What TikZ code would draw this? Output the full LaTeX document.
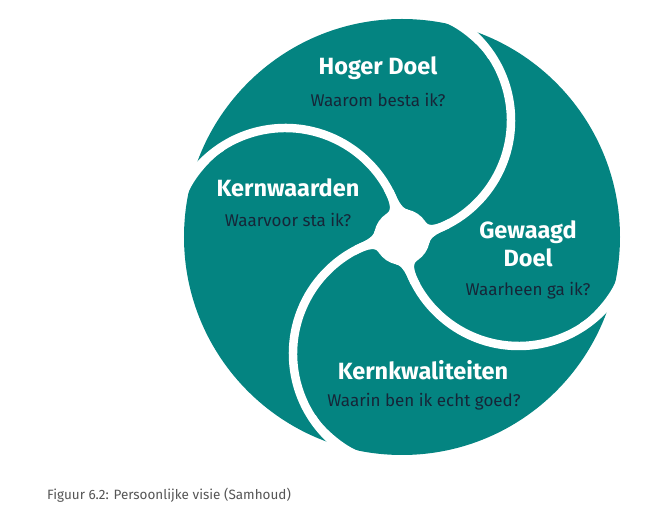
\documentclass[tikz,border=0pt]{standalone}
\usepackage{fontspec}
\setmainfont{Fira Sans}
\usepackage{tikz}
\usetikzlibrary{calc}
\definecolor{visieteal}{RGB}{4,132,129}
\definecolor{vraagblauw}{RGB}{22,38,56}
\definecolor{bijschrift}{RGB}{85,85,85}
\tikzset{
  kop_w/.style = {align=center, inner sep=0pt, text=white,
    font=\fontsize{23.5}{28}\selectfont\bfseries},% kop, wit
  vraag_d/.style = {align=center, inner sep=0pt, text=vraagblauw,
    font=\fontsize{17}{20}\selectfont},% vraag, donker
  spleet/.style = {fill=white}% witte spleet tussen de bladen
}

\begin{document}
\begin{tikzpicture}[x=1pt,y=1pt]
\useasboundingbox (-402,-281) rectangle (256,237);
\fill[visieteal] (0,0) circle (218);
% vier bladen: elke spleet is een boog vanuit het midden
\foreach \r in {0,-90,-180,-270}{
  \begin{scope}[rotate=\r]
    \coordinate (m) at (-8,116.7);% middelpunt van de boog
    % de spleet zelf
    \path[spleet] ($(m)+(-86:121.25)$) arc[start angle=-86, end angle=62, radius=121.25]
      -- ($(m)+(62:112.75)$) arc[start angle=62, end angle=-86, radius=112.75] -- cycle;
    % afgeronde punt van het blad voor de spleet
    \path[spleet] (80:219) .. controls +(-10:16) and +(118:14) .. ($(m)+(33:112.5)$)
      -- ($(m)+(33:117)$) arc[start angle=33, end angle=62, radius=117]
      -- (75:260) -- (80:260) -- cycle;
    % overgang naar de cirkel in het midden
    \path[spleet] (-12:28) .. controls +(78:7) and +(205:9) .. ($(m)+(-63:121.25)$)
      -- ($(m)+(-63:117)$) arc[start angle=-63, end angle=-86, radius=117] -- cycle;
    \path[spleet] (32:28) .. controls +(-58:7) and +(207:9) .. ($(m)+(-61:112.75)$)
      -- ($(m)+(-61:117)$) arc[start angle=-61, end angle=-86, radius=117] -- cycle;
  \end{scope}
}
\fill[white] (0,0) circle (28);

\node[kop_w] (hoger) at (-24,169) {Hoger Doel};
\node[vraag_d] (hoger_v) at (-24,137) {Waarom besta ik?};
\node[kop_w] (kern) at (-114,49) {Kernwaarden};
\node[vraag_d] (kern_v) at (-114,17) {Waarvoor sta ik?};
\node[kop_w] (gewaagd) at (126,-7) {Gewaagd\\Doel};
\node[vraag_d] (gewaagd_v) at (126,-54) {Waarheen ga ik?};
\node[kop_w] (kwal) at (21,-133) {Kernkwaliteiten};
\node[vraag_d] (kwal_v) at (22,-165) {Waarin ben ik echt goed?};

\node[anchor=west, inner sep=0pt, text=bijschrift, font=\fontsize{13.5}{16}\selectfont]
  (figuur) at (-355,-258) {Figuur 6.2: Persoonlijke visie (Samhoud)};
\end{tikzpicture}
\end{document}
